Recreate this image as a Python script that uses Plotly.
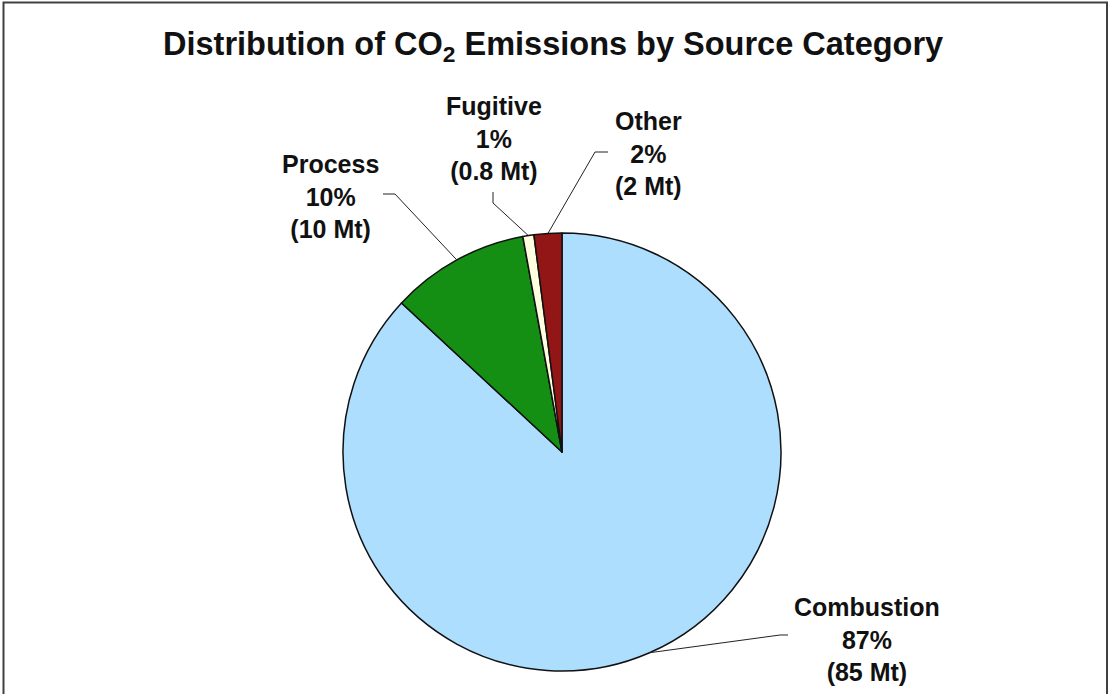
import math
import plotly.graph_objects as go

# Source categories and their CO2 emissions (Mt)
categories = ["Combustion", "Process", "Fugitive", "Other"]
emissions_mt = [85, 10, 0.8, 2]
slice_colors = ["#ADDEFE", "#148F14", "#FFFFE0", "#921616"]

# Canvas and pie geometry (pixels)
W, H = 1108, 694
CX, CY, R = 562, 452, 219

# Label block centres and leader-line elbows (pixels)
label_pos = {
    "Combustion": (867, 639),
    "Process": (330, 196),
    "Fugitive": (494, 139),
    "Other": (648, 153),
}
elbows = {
    "Combustion": [(780, 635), (788, 635)],
    "Process": [(395, 194), (383, 194)],
    "Fugitive": [(493, 203), (493, 192)],
    "Other": [(595, 152), (608, 152)],
}


def px(x):
    return x / W


def py(y):
    return 1 - y / H


fig = go.Figure(
    go.Pie(
        labels=categories,
        values=emissions_mt,
        sort=False,
        direction="clockwise",
        rotation=0,
        textinfo="none",
        hoverinfo="label+value+percent",
        marker=dict(colors=slice_colors, line=dict(color="#111111", width=1.5)),
        domain=dict(x=[px(CX - R), px(CX + R)], y=[py(CY + R), py(CY - R)]),
        showlegend=False,
    )
)

total = sum(emissions_mt)
cum = 0.0
annotations = []
shapes = []
for name, val in zip(categories, emissions_mt):
    mid = (cum + val / 2) / total
    cum += val
    ang = 2 * math.pi * mid  # clockwise from 12 o'clock
    ex = CX + R * math.sin(ang)
    ey = CY - R * math.cos(ang)
    pts = [(ex, ey)] + elbows[name]
    path = "M " + " L ".join(f"{px(x)},{py(y)}" for x, y in pts)
    shapes.append(dict(type="path", path=path, xref="paper", yref="paper",
                       line=dict(color="#222222", width=1)))
    pct = round(100 * val / total)
    lx, ly = label_pos[name]
    lines = [name, f"{pct}%", f"({val:g} Mt)"]
    annotations.append(dict(
        text="<br>".join(f"<b>{s}</b>" for s in lines),
        x=px(lx), y=py(ly), xref="paper", yref="paper",
        xanchor="center", yanchor="middle", align="center", showarrow=False,
        font=dict(family="Liberation Sans, Arial, sans-serif", size=25, color="#111111"),
    ))

# Title
annotations.append(dict(
    text="<b>Distribution of CO<sub>2</sub> Emissions by Source Category</b>",
    x=px(553), y=py(46), xref="paper", yref="paper",
    xanchor="center", yanchor="middle", showarrow=False,
    font=dict(family="Liberation Sans, Arial, sans-serif", size=32.5, color="#111111"),
))

# Chart frame
shapes.append(dict(type="rect", xref="paper", yref="paper",
                   x0=px(3.5), x1=px(1107), y0=-0.02, y1=py(2.5),
                   line=dict(color="#404040", width=2)))

fig.update_layout(
    width=W, height=H,
    margin=dict(l=0, r=0, t=0, b=0),
    paper_bgcolor="white", plot_bgcolor="white",
    font=dict(family="Liberation Sans, Arial, sans-serif", color="#111111"),
    annotations=annotations,
    shapes=shapes,
)

fig.write_html("out.html")
